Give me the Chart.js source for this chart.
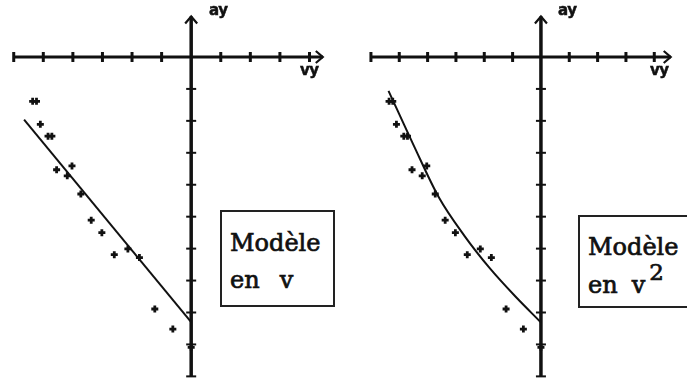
<!DOCTYPE html>
<html>
<head>
<meta charset="utf-8">
<script src="https://cdn.jsdelivr.net/npm/chart.js@4.4.1/dist/chart.umd.min.js"></script>
<style>
  html, body { margin: 0; padding: 0; background: #fff; }
  #wrap { position: relative; width: 687px; height: 388px; overflow: hidden; }
  canvas { position: absolute; top: 0; }
  #leftChart { left: 0; }
  #rightChart { left: 343px; }
  .lbl { position: absolute; font: bold 15px "DejaVu Sans"; line-height: 15px; color: #111; letter-spacing: -0.5px;
         -webkit-text-stroke: 0.5px #111; }
  .box { position: absolute; box-sizing: border-box; border: 2px solid #222; background: #fff;
         font-family: "DejaVu Serif"; font-size: 24px; color: #111; -webkit-text-stroke: 0.7px #111; }
  .row { position: absolute; left: 8px; line-height: 28px; white-space: pre; }
</style>
</head>
<body>
<div id="wrap">
  <canvas id="leftChart" width="343" height="388"></canvas>
  <canvas id="rightChart" width="344" height="388"></canvas>

  <div class="lbl" style="left:209px;top:3px">ay</div>
  <div class="lbl" style="left:300px;top:63px">vy</div>
  <div class="lbl" style="left:558px;top:3px">ay</div>
  <div class="lbl" style="left:650px;top:63px">vy</div>

  <div class="box" style="left:220px;top:210px;width:115px;height:97px">
    <div class="row" style="top:17px">Modèle</div>
    <div class="row" style="top:54px">en<span style="margin-left:20px">v</span></div>
  </div>
  <div class="box" style="left:578px;top:215px;width:125px;height:93px">
    <div class="row" style="top:16px">Modèle</div>
    <div class="row" style="top:54px">en<span style="margin-left:14px">v</span><span style="position:relative;top:-13px;margin-left:4px;font-size:23px">2</span></div>
  </div>
</div>

<script>
// mesures : vitesse vy et accélération ay
const vy = [-5.36, -5.23, -5.10, -4.84, -4.71, -4.55, -4.03, -4.19, -3.73, -3.38, -3.02, -2.60, -2.14, -1.75, -1.23, -0.62, 0];
const ay = [-1.39, -1.39, -2.11, -2.48, -2.48, -3.53, -3.41, -3.72, -4.29, -5.11, -5.50, -6.19, -6.01, -6.28, -7.89, -8.52, -9.09];

// modèle en v (droite)
const modelV_vy = [-5.65, 0];
const modelV_ay = [-1.96, -8.30];

// modèle en v² (courbe)
const modelV2_vy = [-5.38, -4.50, -3.60, -2.70, -1.80, -0.90, 0];
const modelV2_ay = [-1.06, -2.75, -4.40, -5.60, -6.62, -7.50, -8.31];

// graduations des axes
const xTicks = [-6, -5, -4, -3, -2, -1, 1, 2, 3, 4];
const yTicks = [-1, -2, -3, -4, -5, -6, -7, -8, -9, -10];

const ink = '#111';

function toPoints(xs, ys) {
    return xs.map((v, i) => ({ x: v, y: ys[i] }));
}

// axes en croix avec graduations et flèches
const crossAxes = {
    id: 'crossAxes',
    beforeDatasetsDraw(chart, args, opts) {
        const ctx = chart.ctx;
        const xs = chart.scales.x, ys = chart.scales.y;
        const x0 = xs.getPixelForValue(0);
        const y0 = ys.getPixelForValue(0);
        const xLeft = xs.getPixelForValue(xTicks[0]);
        const xRight = xs.getPixelForValue(opts.xEnd);
        const yTop = ys.getPixelForValue(opts.yEnd);
        const yBottom = ys.getPixelForValue(yTicks[yTicks.length - 1]);

        ctx.save();
        ctx.strokeStyle = ink;
        ctx.lineCap = 'butt';

        // axe horizontal
        ctx.lineWidth = 3;
        ctx.beginPath();
        ctx.moveTo(xLeft, y0);
        ctx.lineTo(xRight, y0);
        ctx.stroke();

        // axe vertical
        ctx.lineWidth = 3.5;
        ctx.beginPath();
        ctx.moveTo(x0, yTop);
        ctx.lineTo(x0, yBottom);
        ctx.stroke();

        // graduations horizontales
        ctx.lineWidth = 3;
        xTicks.forEach(t => {
            const px = xs.getPixelForValue(t);
            ctx.beginPath();
            ctx.moveTo(px, y0 - 5);
            ctx.lineTo(px, y0 + 5);
            ctx.stroke();
        });

        // graduations verticales
        ctx.lineWidth = 2;
        yTicks.forEach(t => {
            const py = ys.getPixelForValue(t);
            ctx.beginPath();
            ctx.moveTo(x0 - 5, py);
            ctx.lineTo(x0 + 5, py);
            ctx.stroke();
        });

        // flèches
        ctx.lineWidth = 2.2;
        ctx.lineJoin = 'miter';
        ctx.beginPath();
        ctx.moveTo(xRight - 7, y0 - 6);
        ctx.lineTo(xRight, y0);
        ctx.lineTo(xRight - 7, y0 + 6);
        ctx.stroke();
        ctx.beginPath();
        ctx.moveTo(x0 - 6, yTop + 7);
        ctx.lineTo(x0, yTop);
        ctx.lineTo(x0 + 6, yTop + 7);
        ctx.stroke();
        ctx.restore();
    }
};

function makeChart(id, modelX, modelY, range) {
    const ctx = document.getElementById(id).getContext('2d');
    return new Chart(ctx, {
        type: 'scatter',
        data: {
            datasets: [{
                label: 'mesures',
                data: toPoints(vy, ay),
                pointStyle: 'cross',
                pointRadius: 3.5,
                borderWidth: 2.8,
                borderColor: ink,
                backgroundColor: ink
            }, {
                label: 'modèle',
                data: toPoints(modelX, modelY),
                showLine: true,
                pointRadius: 0,
                borderWidth: 2,
                borderColor: ink,
                tension: 0.4,
                cubicInterpolationMode: 'monotone'
            }]
        },
        options: {
            responsive: false,
            animation: false,
            events: [],
            layout: { padding: 0 },
            plugins: {
                legend: { display: false },
                tooltip: { enabled: false },
                crossAxes: { xEnd: range.xEnd, yEnd: 1.27 }
            },
            scales: {
                x: { type: 'linear', display: false, min: range.xMin, max: range.xMax },
                y: { type: 'linear', display: false, min: -10.151, max: 1.571 }
            }
        },
        plugins: [crossAxes]
    });
}

makeChart('leftChart', modelV_vy, modelV_ay, { xMin: -6.234, xMax: 4.903, xEnd: 4.45 });
makeChart('rightChart', modelV2_vy, modelV2_ay, { xMin: -6.746, xMax: 4.915, xEnd: 4.58 });
</script>
</body>
</html>
